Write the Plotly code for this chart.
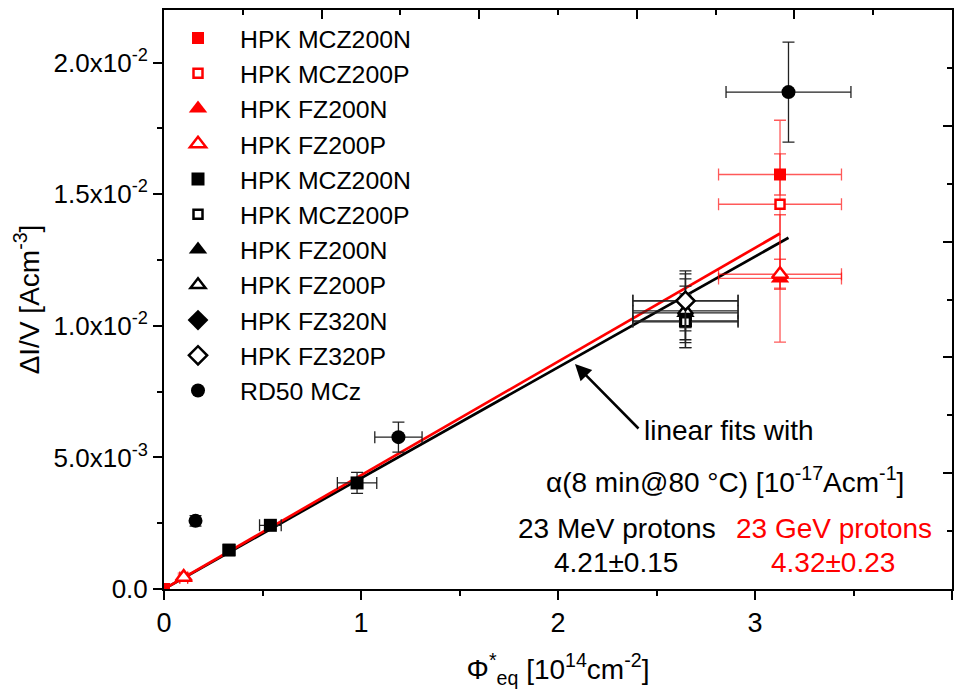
import plotly.graph_objects as go

# ---------------- data ----------------
# 23 GeV protons (red)
r_mcz200n_x = [0.0, 3.127]
r_mcz200n_y = [0.0, 0.01575]
r_mcz200n_xe = [0.0, 0.312]
r_mcz200n_ye = [0.0, 0.00078]

r_mcz200p_x = [3.127]
r_mcz200p_y = [0.01462]
r_mcz200p_xe = [0.312]
r_mcz200p_ye = [0.00319]

r_fz200n_x = [0.10, 3.127]
r_fz200n_y = [0.00042, 0.01180]
r_fz200n_xe = [0.02, 0.312]
r_fz200n_ye = [0.00012, 0.00242]

r_fz200p_x = [0.10, 3.127]
r_fz200p_y = [0.00045, 0.01196]
r_fz200p_xe = [0.02, 0.312]
r_fz200p_ye = [0.00015, 0.00057]

# 23 MeV protons (black)
b_mcz200n_x = [0.33, 0.54, 0.98, 2.647]
b_mcz200n_y = [0.00148, 0.00242, 0.00403, 0.01019]
b_mcz200n_xe = [0.03, 0.055, 0.10, 0.267]
b_mcz200n_ye = [0.0001, 0.00015, 0.0004, 0.00102]

b_mcz200p_x = [2.647]
b_mcz200p_y = [0.01015]
b_mcz200p_xe = [0.267]
b_mcz200p_ye = [0.00098]

b_fz200n_x = [2.647]
b_fz200n_y = [0.01049]
b_fz200n_xe = [0.267]
b_fz200n_ye = [0.00102]

b_fz200p_x = [2.647]
b_fz200p_y = [0.01057]
b_fz200p_xe = [0.267]
b_fz200p_ye = [0.00121]

b_fz320n_x = [2.647]
b_fz320n_y = [0.01095]
b_fz320n_xe = [0.267]
b_fz320n_ye = [0.00114]

b_fz320p_x = [2.647]
b_fz320p_y = [0.01095]
b_fz320p_xe = [0.267]
b_fz320p_ye = [0.00102]

rd50_x = [0.16, 1.19, 3.17]
rd50_y = [0.00259, 0.00577, 0.01888]
rd50_xe = [0.01, 0.12, 0.317]
rd50_ye = [0.0002, 0.00057, 0.0019]

# linear fits: alpha in 1e-17 A/cm -> slope 1e-3 per 1e14 cm^-2
alpha_mev = 4.21
alpha_gev = 4.32
fit_mev_x = [0.0, 3.17]
fit_gev_x = [0.0, 3.127]

y_tickvals = [0.0, 0.005, 0.010, 0.015, 0.020]
y_ticktext = ["0.0", "5.0x10<sup>-3</sup>", "1.0x10<sup>-2</sup>",
              "1.5x10<sup>-2</sup>", "2.0x10<sup>-2</sup>"]
x_tickvals = [0, 1, 2, 3, 4]

# ---------------- figure ----------------
FONT = "Liberation Sans, Arial, sans-serif"
RED = "#ff0000"
RED_ERR = "rgba(255,0,0,0.65)"
BLK = "#000000"
BLK_ERR = "#222222"

fig = go.Figure()

# fit lines (under markers)
fig.add_trace(go.Scatter(x=fit_mev_x, y=[alpha_mev * 1e-3 * v for v in fit_mev_x],
                         mode="lines", line=dict(color=BLK, width=2.7),
                         showlegend=False, hoverinfo="skip"))
fig.add_trace(go.Scatter(x=fit_gev_x, y=[alpha_gev * 1e-3 * v for v in fit_gev_x],
                         mode="lines", line=dict(color=RED, width=2.7),
                         showlegend=False, hoverinfo="skip"))


def add(name, x, y, xe, ye, symbol, color, errcolor, size, open_=False):
    marker = dict(symbol=symbol, size=size, color=color,
                  line=dict(width=0, color=color))
    if open_:
        marker = dict(symbol=symbol, size=size, color="white",
                      line=dict(width=2.5, color=color))
    fig.add_trace(go.Scatter(
        x=x, y=y, mode="markers", name=name, marker=marker,
        error_x=dict(type="data", array=xe, color=errcolor, thickness=1.3, width=6),
        error_y=dict(type="data", array=ye, color=errcolor, thickness=1.3, width=6),
    ))


add("HPK MCZ200N", r_mcz200n_x, r_mcz200n_y, r_mcz200n_xe, r_mcz200n_ye, "square", RED, RED_ERR, 12)
add("HPK MCZ200P", r_mcz200p_x, r_mcz200p_y, r_mcz200p_xe, r_mcz200p_ye, "square", RED, RED_ERR, 9, True)
add("HPK FZ200N", r_fz200n_x, r_fz200n_y, r_fz200n_xe, r_fz200n_ye, "triangle-up", RED, RED_ERR, 16)
add("HPK FZ200P", r_fz200p_x, r_fz200p_y, r_fz200p_xe, r_fz200p_ye, "triangle-up", RED, RED_ERR, 14, True)
add("HPK MCZ200N", b_mcz200n_x, b_mcz200n_y, b_mcz200n_xe, b_mcz200n_ye, "square", BLK, BLK_ERR, 13)
add("HPK MCZ200P", b_mcz200p_x, b_mcz200p_y, b_mcz200p_xe, b_mcz200p_ye, "square", BLK, BLK_ERR, 9, True)
add("HPK FZ200N", b_fz200n_x, b_fz200n_y, b_fz200n_xe, b_fz200n_ye, "triangle-up", BLK, BLK_ERR, 16)
add("HPK FZ200P", b_fz200p_x, b_fz200p_y, b_fz200p_xe, b_fz200p_ye, "triangle-up", BLK, BLK_ERR, 13, True)
add("HPK FZ320N", b_fz320n_x, b_fz320n_y, b_fz320n_xe, b_fz320n_ye, "diamond", BLK, BLK_ERR, 16)
add("HPK FZ320P", b_fz320p_x, b_fz320p_y, b_fz320p_xe, b_fz320p_ye, "diamond", BLK, BLK_ERR, 14, True)
add("RD50 MCz", rd50_x, rd50_y, rd50_xe, rd50_ye, "circle", BLK, BLK_ERR, 14)

# dummy trace to create the top / right frame axes
fig.add_trace(go.Scatter(x=[None], y=[None], xaxis="x2", yaxis="y2",
                         showlegend=False, hoverinfo="skip"))

# plot area geometry (pixels)
L, R, T, B = 164, 952, 10, 589
W, H = 954, 693


def px(xp):
    return (xp - L) / (R - L)


def py(yp):
    return (B - yp) / (B - T)


fig.update_layout(
    width=W, height=H,
    margin=dict(l=L, r=W - R, t=T, b=H - B, pad=0),
    paper_bgcolor="white", plot_bgcolor="white",
    font=dict(family=FONT, size=27, color="black"),
    showlegend=True,
    legend=dict(x=px(156), y=py(15.5), xanchor="left", yanchor="top",
                bgcolor="rgba(0,0,0,0)", borderwidth=0,
                font=dict(family=FONT, size=24.8), tracegroupgap=0,
                itemwidth=74),
    xaxis=dict(range=[0, 4], tickvals=x_tickvals, ticks="outside", ticklen=9, tickwidth=2,
               tickcolor="black", showline=True, linewidth=2, linecolor="black",
               showgrid=False, zeroline=False, mirror=False,
               minor=dict(dtick=0.5, ticks="outside", ticklen=5, tickwidth=2, tickcolor="black"),
               tickfont=dict(size=27),
               title=dict(text="Φ<sup>*</sup><sub>eq</sub> [10<sup>14</sup>cm<sup>-2</sup>]",
                          font=dict(size=28), standoff=22)),
    yaxis=dict(range=[0, 0.022], tickvals=y_tickvals, ticktext=y_ticktext,
               ticks="outside", ticklen=9, tickwidth=2, tickcolor="black",
               showline=True, linewidth=2, linecolor="black",
               showgrid=False, zeroline=False, mirror=False,
               minor=dict(dtick=0.0025, ticks="outside", ticklen=5, tickwidth=2, tickcolor="black"),
               tickfont=dict(size=26),
               title=dict(text="ΔI/V [Acm<sup>-3</sup>]", font=dict(size=28), standoff=6)),
    xaxis2=dict(overlaying="x", side="top", anchor="y2", range=[0, 5],
                tickvals=[1, 2, 3, 4], ticks="inside", ticklen=9, tickwidth=2,
                tickcolor="black", showticklabels=False, showline=True, linewidth=2,
                linecolor="black", showgrid=False, zeroline=False,
                minor=dict(dtick=0.5, ticks="inside", ticklen=5, tickwidth=2, tickcolor="black")),
    yaxis2=dict(overlaying="y", side="right", anchor="x2", range=[0, 5],
                tickvals=[1, 2, 3, 4], ticks="inside", ticklen=9, tickwidth=2,
                tickcolor="black", showticklabels=False, showline=True, linewidth=2,
                linecolor="black", showgrid=False, zeroline=False,
                minor=dict(dtick=0.5, ticks="inside", ticklen=5, tickwidth=2, tickcolor="black")),
)

ann_font = dict(family=FONT, size=28, color="black")
ann_font_red = dict(family=FONT, size=28, color=RED)


def text_ann(t, xp, yp, f):
    fig.add_annotation(text=t, x=px(xp), y=py(yp), xref="paper", yref="paper",
                       xanchor="center", yanchor="middle", showarrow=False, font=f)


text_ann("linear fits with", 729, 430, ann_font)
text_ann("α(8 min@80 °C) [10<sup>-17</sup>Acm<sup>-1</sup>]", 725, 480, ann_font)
text_ann("23 MeV protons", 617, 528, ann_font)
text_ann("23 GeV protons", 834, 528, ann_font_red)
text_ann("4.21±0.15", 616, 562, ann_font)
text_ann("4.32±0.23", 833, 562, ann_font_red)

# arrow (head at 575,364 px; tail at 640,430 px)
fig.add_annotation(x=px(575), y=py(364), xref="paper", yref="paper",
                   ax=640 - 575, ay=430 - 364, axref="pixel", ayref="pixel",
                   text="", showarrow=True, arrowhead=2, arrowsize=1.3,
                   arrowwidth=2.5, arrowcolor="black")

fig.write_html("out.html")
